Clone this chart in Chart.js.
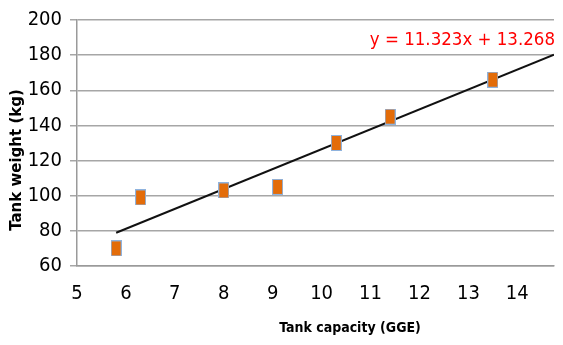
<!DOCTYPE html>
<html>
<head>
<meta charset="utf-8">
<script src="https://cdn.jsdelivr.net/npm/chart.js@4/dist/chart.umd.min.js"></script>
<style>
  html, body { margin: 0; padding: 0; background: #fff; }
  #wrap { width: 563px; height: 345px; }
</style>
</head>
<body>
<div id="wrap"><canvas id="myChart"></canvas></div>
<script>
// data
const capacity = [5.8, 6.3, 8.0, 9.1, 10.3, 11.4, 13.5];
const weight = [70, 99, 103, 105, 130, 145, 166];
const yTicks = [60, 80, 100, 120, 140, 160, 180, 200];
const xTicks = [5, 6, 7, 8, 9, 10, 11, 12, 13, 14];
// trendline y = 11.323x + 13.268, drawn between these x values
const slope = 11.323;
const intercept = 13.268;
const trendX = [5.8, 14.75];

const tickFont = { family: "'DejaVu Sans Condensed', sans-serif", size: 20 };

// orange rectangle marker with light blue edge
const marker = document.createElement('canvas');
marker.width = 11; marker.height = 16;
const mc = marker.getContext('2d');
mc.fillStyle = '#8fb3de';
mc.fillRect(0, 0, 11, 16);
mc.fillStyle = '#e36c09';
mc.fillRect(1, 1, 9, 14);

const labelsPlugin = {
  id: 'labels',
  afterDraw(chart) {
    const ctx = chart.ctx;
    ctx.save();
    ctx.fillStyle = '#000';
    ctx.textAlign = 'center';
    ctx.textBaseline = 'middle';
    ctx.font = "bold 14px 'DejaVu Sans Condensed', sans-serif";
    ctx.fillText('Tank capacity (GGE)', 350, 328);
    ctx.translate(17, 160);
    ctx.rotate(-Math.PI / 2);
    ctx.font = "bold 15px 'DejaVu Sans', sans-serif";
    ctx.fillText('Tank weight (kg)', 0, 0);
    ctx.restore();

    ctx.save();
    ctx.fillStyle = '#ff0000';
    ctx.textAlign = 'right';
    ctx.textBaseline = 'alphabetic';
    ctx.font = "18.5px 'DejaVu Sans Condensed', sans-serif";
    ctx.fillText('y = 11.323x + 13.268', 555, 45);
    ctx.restore();
  }
};

const data = {
  datasets: [
    {
      type: 'scatter',
      label: 'Tank weight',
      data: capacity.map((c, i) => ({ x: c, y: weight[i] })),
      pointStyle: marker,
      pointRadius: 8,
      order: 1
    },
    {
      type: 'line',
      label: 'Trend',
      data: trendX.map(x => ({ x: x, y: slope * x + intercept })),
      borderColor: '#111',
      borderWidth: 2,
      pointRadius: 0,
      order: 2
    }
  ]
};

const config = {
  type: 'scatter',
  data,
  options: {
    responsive: true,
    maintainAspectRatio: false,
    animation: false,
    layout: { padding: { top: 16, right: 0, left: 0, bottom: 0 } },
    plugins: { legend: { display: false }, tooltip: { enabled: false } },
    scales: {
      x: {
        type: 'linear',
        min: 5,
        max: 14.75,
        afterBuildTicks: s => { s.ticks = xTicks.map(v => ({ value: v })); },
        afterFit: s => { s.height = 79; },
        grid: { display: false, drawOnChartArea: false, drawTicks: true, tickLength: 8, tickColor: '#9a9a9a', lineWidth: 1.5 },
        border: { color: '#9a9a9a', width: 1.5 },
        ticks: { color: '#000', font: tickFont, padding: 8, maxRotation: 0 }
      },
      y: {
        min: 60,
        max: 200,
        afterBuildTicks: s => { s.ticks = yTicks.map(v => ({ value: v })); },
        afterFit: s => { s.width = 77; },
        grid: { color: '#a6a6a6', lineWidth: 1.5, tickLength: 7, tickColor: '#a6a6a6' },
        border: { color: '#9a9a9a', width: 1.5 },
        ticks: { color: '#000', font: tickFont, padding: 8 }
      }
    }
  },
  plugins: [labelsPlugin]
};

const myChart = new Chart(document.getElementById('myChart'), config);
</script>
</body>
</html>
